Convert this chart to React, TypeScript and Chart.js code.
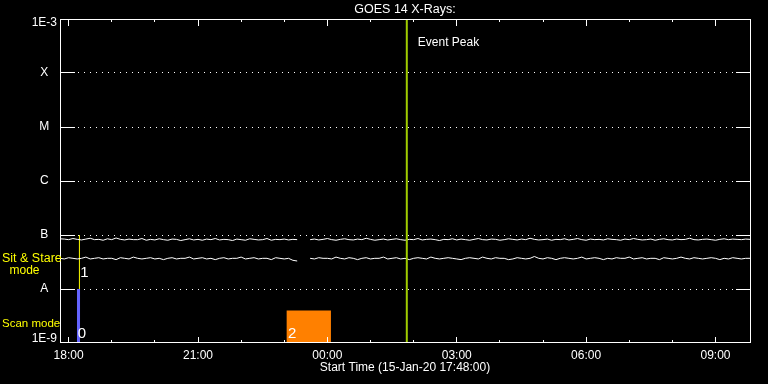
import React, { useEffect, useRef } from 'react';
import { Chart, registerables } from 'chart.js';

Chart.register(...registerables);

// ---------- text ----------
const TITLE = 'GOES 14 X-Rays:';
const X_TITLE = 'Start Time (15-Jan-20 17:48:00)';
const EVENT_LABEL = 'Event Peak';

// ---------- time base (minutes after 17:48:00) ----------
const SAMPLE_STEP_MIN = 6;
const X_MIN = 0;
const X_MAX = 960;

// ---------- series (units of 1e-8 W/m^2), null = data gap ----------
const longChannel: (number | null)[] = [
  8.5, 8.4, 8.2, 8.6, 8.3, 8.1, 8.4, 8.7, 8.2, 8.3,
  8.0, 8.5, 8.2, 8.8, 8.3, 8.1, 8.4, 8.2, 8.2, 8.6,
  8.0, 8.3, 8.1, 8.5, 8.2, 8.0, 8.4, 8.3, 7.9, 8.2,
  8.5, 8.1, 8.3, 8.0, 8.4, 8.2, 8.6, 8.1, 8.3, 8.2,
  7.9, 8.4, 8.2, 8.0, 8.5, 8.3, 8.1, 8.2, 8.6, 8.0,
  8.3, 8.2, 8.4, 8.1, 8.3, 8.2,
  null, null,
  8.2, 8.4, 8.1, 8.3, 8.6, 8.2, 8.0, 8.3, 8.5, 8.2,
  8.1, 8.4, 8.2, 8.7, 8.3, 8.0, 8.2, 8.4, 8.1, 8.3,
  8.5, 8.2, 8.0, 8.3, 8.2, 8.6, 8.1, 8.3, 8.4, 8.2,
  7.9, 8.3, 8.2, 8.5, 8.1, 8.4, 8.2, 8.0, 8.3, 8.6,
  8.2, 8.1, 8.4, 8.3, 8.0, 8.2, 8.5, 8.3, 8.1, 8.4,
  8.2, 8.7, 8.3, 8.1, 8.2, 8.4, 8.0, 8.3, 8.2, 8.5,
  8.1, 8.3, 8.6, 8.2, 8.0, 8.4, 8.2, 8.3, 8.1, 8.5,
  8.3, 8.2, 8.0, 8.4, 8.2, 8.6, 8.3, 8.1, 8.2, 8.4,
  8.0, 8.3, 8.5, 8.2, 8.1, 8.4, 8.2, 8.3, 8.7, 8.2,
  8.1, 8.3, 8.4, 8.2, 8.0, 8.3, 8.5, 8.2, 8.4, 8.3,
  8.2, 8.4, 8.3,
];

const shortChannel: (number | null)[] = [
  3.7, 3.6, 3.8, 3.7, 3.6, 3.7, 3.9, 3.6, 3.7, 3.8,
  3.6, 3.7, 3.7, 3.5, 3.8, 3.7, 3.6, 3.9, 3.7, 3.6,
  3.7, 3.8, 3.6, 3.7, 3.5, 3.7, 3.8, 3.6, 3.7, 3.7,
  3.9, 3.6, 3.7, 3.8, 3.6, 3.7, 3.5, 3.7, 3.8, 3.6,
  3.7, 3.7, 3.9, 3.6, 3.7, 3.8, 3.6, 3.7, 3.7, 3.5,
  3.8, 3.7, 3.6, 3.7, 3.4, 3.3,
  null, null,
  3.7, 3.6, 3.8, 3.7, 3.7, 3.6, 3.9, 3.7, 3.6, 3.8,
  3.7, 3.5, 3.7, 3.8, 3.6, 3.7, 3.7, 3.9, 3.6, 3.7,
  3.8, 3.6, 3.7, 3.5, 3.7, 3.8, 3.7, 3.6, 3.9, 3.7,
  3.6, 3.7, 3.8, 3.7, 3.6, 3.5, 3.7, 3.8, 3.7, 3.6,
  3.9, 3.7, 3.6, 3.8, 3.7, 3.7, 3.5, 3.6, 3.8, 3.7,
  3.6, 3.7, 4.0, 3.7, 3.6, 3.8, 3.7, 3.5, 3.7, 3.8,
  3.7, 3.6, 3.7, 3.9, 3.6, 3.7, 3.8, 3.7, 3.5, 3.7,
  3.6, 3.8, 3.7, 3.7, 3.9, 3.6, 3.7, 3.8, 3.6, 3.7,
  3.7, 3.5, 3.8, 3.7, 3.6, 3.7, 3.9, 3.7, 3.6, 3.8,
  3.7, 3.6, 3.7, 3.8, 3.7, 3.5, 3.7, 3.6, 3.8, 3.7,
  3.6, 3.7, 3.7,
];

// ---------- axis ticks ----------
const hourTickMinutes = [12, 72, 132, 192, 252, 312, 372, 432, 492, 552, 612, 672, 732, 792, 852, 912];
const hourTickLabels = ['18:00', '', '', '21:00', '', '', '00:00', '', '', '03:00', '', '', '06:00', '', '', '09:00'];
const yTickValues = [1e-9, 1e-8, 1e-7, 1e-6, 1e-5, 1e-4, 1e-3];
const yTickLabels = ['1E-9', 'A', 'B', 'C', 'M', 'X', '1E-3'];

// ---------- event + markers ----------
const eventPeakMinute = 482.5;
const markerLabels = ['0', '1', '2'];
const markerKinds = ['box', 'line', 'box'];
const markerStart = [23.5, 27, 315];
const markerEnd = [28, 27, 377];
const markerLow = [1e-9, 1e-8, 1e-9];
const markerHigh = [1e-8, 1e-7, 4e-9];
const markerColors = ['#6464ff', '#ffff00', '#ff8000'];
const markerLabelMinute = [30.6, 34, 323];
const markerLabelValue = [1.5e-9, 2.0e-8, 1.5e-9];

// ---------- mode labels (left margin) ----------
const modeLabels = ['Sit & Stare', 'mode', 'Scan mode'];
const modeLabelValues = [3.6e-8, 2.15e-8, 2.25e-9];

const FONT = 'Liberation Sans';
const WHITE = '#ffffff';
const EVENT_COLOR = '#a0cc00';

const times = longChannel.map((_, i) => i * SAMPLE_STEP_MIN);

const align = (p: number) => Math.round(p - 0.5) + 0.5;

const decorPlugin = {
  id: 'decor',
  afterDraw(chart: any) {
    const { ctx, chartArea: a, scales } = chart;
    const xs = scales.x;
    const ys = scales.y;
    ctx.save();
    ctx.strokeStyle = WHITE;
    ctx.lineWidth = 1;
    ctx.setLineDash([]);
    // frame
    ctx.strokeRect(a.left + 0.5, a.top + 0.5, a.right - a.left, a.bottom - a.top - 1);
    // solid tick segments at class levels
    yTickValues.forEach((v) => {
      if (v === yTickValues[0] || v === yTickValues[yTickValues.length - 1]) return;
      const py = align(ys.getPixelForValue(v));
      ctx.beginPath();
      ctx.moveTo(a.left, py);
      ctx.lineTo(a.left + 15, py);
      ctx.moveTo(a.right - 14, py);
      ctx.lineTo(a.right + 1, py);
      ctx.stroke();
    });
    // hour ticks, bottom and top, pointing inwards
    hourTickMinutes.forEach((m, i) => {
      const major = hourTickLabels[i] !== '';
      const px = align(xs.getPixelForValue(m));
      ctx.beginPath();
      ctx.moveTo(px, a.bottom);
      ctx.lineTo(px, a.bottom - (major ? 6 : 3));
      ctx.moveTo(px, a.top);
      ctx.lineTo(px, a.top + (major ? 7 : 3));
      ctx.stroke();
    });
    // event label
    ctx.fillStyle = WHITE;
    ctx.font = `12px "${FONT}"`;
    ctx.textBaseline = 'middle';
    ctx.textAlign = 'left';
    ctx.fillText(EVENT_LABEL, xs.getPixelForValue(eventPeakMinute) + 11, a.top + 24);
    // marker labels
    ctx.font = `15px "${FONT}"`;
    ctx.textAlign = 'center';
    markerLabels.forEach((t, i) => {
      ctx.fillText(t, xs.getPixelForValue(markerLabelMinute[i]), ys.getPixelForValue(markerLabelValue[i]));
    });
    // mode labels
    ctx.fillStyle = '#ffff00';
    ctx.textAlign = 'left';
    ctx.font = `12.5px "${FONT}"`;
    ctx.fillText(modeLabels[0], 2, ys.getPixelForValue(modeLabelValues[0]));
    ctx.textAlign = 'center';
    ctx.font = `12px "${FONT}"`;
    ctx.fillText(modeLabels[1], 24.5, ys.getPixelForValue(modeLabelValues[1]));
    ctx.textAlign = 'left';
    ctx.font = `11.5px "${FONT}"`;
    ctx.fillText(modeLabels[2], 2, ys.getPixelForValue(modeLabelValues[2]));
    ctx.restore();
  },
};

export default function App() {
  const ref = useRef<HTMLCanvasElement>(null);
  useEffect(() => {
    if (!ref.current) return;
    const markerSets = markerLabels.map((_, i) =>
      markerKinds[i] === 'box'
        ? {
            label: 'marker' + markerLabels[i],
            data: [
              { x: markerStart[i], y: markerHigh[i] },
              { x: markerEnd[i], y: markerHigh[i] },
            ],
            borderWidth: 0,
            borderColor: markerColors[i],
            backgroundColor: markerColors[i],
            fill: 'start',
            pointRadius: 0,
          }
        : {
            label: 'marker' + markerLabels[i],
            data: [
              { x: markerStart[i], y: markerLow[i] },
              { x: markerEnd[i], y: markerHigh[i] },
            ],
            borderWidth: 1,
            borderColor: markerColors[i],
            fill: false,
            pointRadius: 0,
          }
    );
    const chart = new Chart(ref.current, {
      type: 'line',
      data: {
        datasets: [
          {
            label: 'event',
            data: [
              { x: eventPeakMinute, y: 1e-9 },
              { x: eventPeakMinute, y: 1e-3 },
            ],
            borderColor: EVENT_COLOR,
            borderWidth: 2,
            pointRadius: 0,
            fill: false,
          },
          {
            label: 'long',
            data: times.map((t, i) => ({ x: t, y: longChannel[i] == null ? null : (longChannel[i] as number) * 1e-8 })),
            borderColor: WHITE,
            borderWidth: 1,
            pointRadius: 0,
            fill: false,
            spanGaps: false,
          },
          {
            label: 'short',
            data: times.map((t, i) => ({ x: t, y: shortChannel[i] == null ? null : (shortChannel[i] as number) * 1e-8 })),
            borderColor: WHITE,
            borderWidth: 1,
            pointRadius: 0,
            fill: false,
            spanGaps: false,
          },
          ...markerSets,
        ] as any,
      },
      options: {
        responsive: false,
        devicePixelRatio: 1,
        animation: false,
        events: [],
        layout: { padding: { top: 0, right: 18, bottom: 0, left: 0 } },
        plugins: {
          legend: { display: false },
          tooltip: { enabled: false },
          title: {
            display: true,
            text: TITLE,
            color: WHITE,
            fullSize: false,
            font: { family: FONT, size: 12.5, weight: 'normal', lineHeight: '14px' } as any,
            padding: { top: 3, bottom: 2 },
          },
        },
        scales: {
          x: {
            type: 'linear',
            min: X_MIN,
            max: X_MAX,
            grid: { display: false, drawTicks: false },
            border: { display: false },
            afterBuildTicks: (s: any) => {
              s.ticks = hourTickMinutes.map((v) => ({ value: v }));
            },
            afterFit: (s: any) => {
              s.height = 41;
            },
            ticks: {
              color: WHITE,
              autoSkip: false,
              maxRotation: 0,
              padding: 5,
              font: { family: FONT, size: 12 },
              callback: (v: any) => {
                const i = hourTickMinutes.indexOf(Number(v));
                return i >= 0 ? hourTickLabels[i] : '';
              },
            },
            title: {
              display: true,
              text: X_TITLE,
              color: WHITE,
              font: { family: FONT, size: 12 },
              padding: { top: 0, bottom: 9 },
            },
          },
          y: {
            type: 'logarithmic',
            position: 'left',
            min: 1e-9,
            max: 1e-3,
            afterBuildTicks: (s: any) => {
              s.ticks = yTickValues.map((v) => ({ value: v }));
            },
            afterFit: (s: any) => {
              s.width = 60;
            },
            grid: {
              drawTicks: false,
              lineWidth: 1,
              color: (c: any) => {
                const v = c.tick ? c.tick.value : null;
                return v === yTickValues[0] || v === yTickValues[yTickValues.length - 1] ? 'rgba(0,0,0,0)' : WHITE;
              },
            },
            border: { display: false, dash: [1, 5] },
            ticks: {
              color: WHITE,
              padding: 3,
              crossAlign: 'center',
              autoSkip: false,
              font: { family: FONT, size: 12, lineHeight: '8px' } as any,
              callback: (v: any) => {
                const i = yTickValues.findIndex((t) => Math.abs(t - Number(v)) / t < 1e-6);
                if (i < 0) return '';
                if (i === yTickValues.length - 1) return ['', yTickLabels[i]];
                if (i === 0) return [yTickLabels[i], ''];
                return yTickLabels[i];
              },
            },
          },
        },
      } as any,
      plugins: [decorPlugin],
    });
    return () => chart.destroy();
  }, []);
  return (
    <div style={{ position: 'fixed', left: 0, top: 0, width: 768, height: 384, background: '#000' }}>
      <canvas ref={ref} width={768} height={384} style={{ display: 'block' }} />
    </div>
  );
}
